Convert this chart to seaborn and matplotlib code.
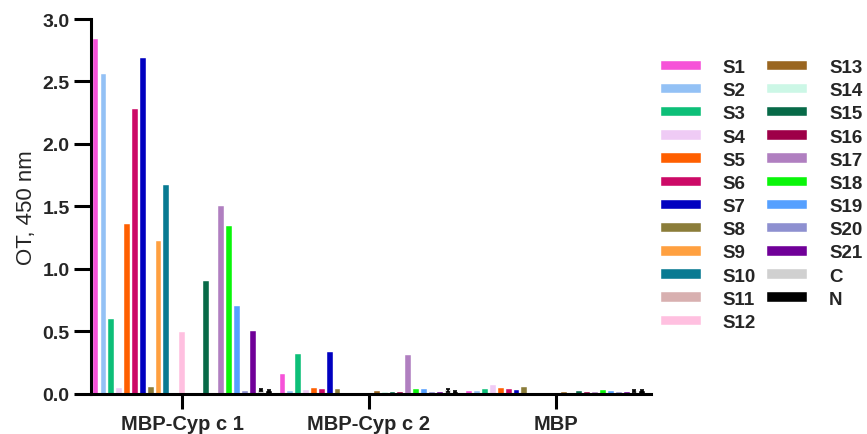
import matplotlib
matplotlib.use("Agg")
import matplotlib.pyplot as plt
from matplotlib.patches import Patch
import pandas as pd
import seaborn as sns

############################## data ##########################################
groups = ["MBP-Cyp c 1", "MBP-Cyp c 2", "MBP"]
samples = ["S1", "S2", "S3", "S4", "S5", "S6", "S7", "S8", "S9", "S10", "S11",
           "S12", "S13", "S14", "S15", "S16", "S17", "S18", "S19", "S20", "S21",
           "C", "N"]
colors = ["#f652d8", "#93c1f5", "#0dbf78", "#efcbf5", "#ff5f00", "#cc0a66",
          "#0000c0", "#8b7d3a", "#ffa040", "#087a92", "#d8b0b0", "#ffc0e0",
          "#9a6620", "#ccf7e6", "#076a48", "#9e0048", "#b07fc0", "#0af50a",
          "#55a0ff", "#8e90d0", "#700098", "#d0d0d0", "#000000"]

vals_cyp1 = [2.84, 2.56, 0.60, 0.045, 1.36, 2.28, 2.69, 0.05, 1.22, 1.67, 0.0,
             0.49, 0.0, 0.0, 0.90, 0.0, 1.50, 1.34, 0.70, 0.02, 0.50, 0.03, 0.02]
vals_cyp2 = [0.16, 0.02, 0.32, 0.03, 0.045, 0.035, 0.335, 0.04, 0.0, 0.0, 0.0,
             0.0, 0.02, 0.015, 0.015, 0.012, 0.31, 0.035, 0.035, 0.01, 0.015,
             0.025, 0.015]
vals_mbp = [0.02, 0.02, 0.04, 0.07, 0.045, 0.04, 0.03, 0.05, 0.0, 0.0, 0.0,
            0.0, 0.016, 0.008, 0.02, 0.016, 0.01, 0.03, 0.02, 0.01, 0.016,
            0.02, 0.02]
# small error on the controls
err_c = [0.01, 0.01, 0.008]
err_n = [0.008, 0.008, 0.006]

rows = []
for g, vals in zip(groups, [vals_cyp1, vals_cyp2, vals_mbp]):
    for s, v in zip(samples, vals):
        rows.append({"group": g, "sample": s, "value": v})
df = pd.DataFrame(rows)

############################## plot ##########################################
sns.set_style("ticks")
plt.rcParams['font.family'] = ['Liberation Sans', 'DejaVu Sans']

fig = plt.figure(figsize=(8.67, 4.35), dpi=100)
ax = fig.add_axes([0.1044, 0.0931, 0.6466, 0.8609])

palette = dict(zip(samples, colors))
sns.barplot(data=df, x="group", y="value", hue="sample", palette=palette,
            hue_order=samples, order=groups, width=0.968, gap=0.26,
            errorbar=None, legend=False, ax=ax, saturation=1,
            edgecolor="white", linewidth=0.3)

# error bars for C and N
for name, errs in [("C", err_c), ("N", err_n)]:
    cont = ax.containers[samples.index(name)]
    for p, e in zip(cont.patches, errs):
        ax.errorbar(p.get_x() + p.get_width() / 2, p.get_height(), yerr=e,
                    color="black", lw=1.2, capsize=1.5, capthick=1.2, zorder=5)

ax.set_xlim(-0.49, 2.51)
ax.set_ylim(0, 3.0)
ax.set_yticks([0, 0.5, 1.0, 1.5, 2.0, 2.5, 3.0])
ax.set_yticklabels(["0.0", "0.5", "1.0", "1.5", "2.0", "2.5", "3.0"])
ax.set_xlabel("")
ax.set_ylabel("OT, 450 nm", fontsize=16, labelpad=4)

for lab in ax.get_yticklabels():
    lab.set_fontweight("bold")
    lab.set_fontsize(14)
for lab in ax.get_xticklabels():
    lab.set_fontweight("bold")
    lab.set_fontsize(14.5)
ax.tick_params(axis="y", length=12, width=2.2, pad=3, color="black")
ax.tick_params(axis="x", length=11, width=2.2, pad=4, color="black")

sns.despine(ax=ax)
for sp in ["left", "bottom"]:
    ax.spines[sp].set_linewidth(2.2)
    ax.spines[sp].set_color("black")

handles = [Patch(facecolor=c, edgecolor="white", linewidth=0.3, label=s)
           for s, c in zip(samples, colors)]
leg = fig.legend(handles=handles, loc="upper left",
                 bbox_to_anchor=(661 / 867, (435 - 60) / 435), ncol=2,
                 frameon=False, borderpad=0, borderaxespad=0,
                 handlelength=2.13, handleheight=0.4, handletextpad=1.17,
                 columnspacing=0.6, labelspacing=0.33,
                 prop={"weight": "bold", "size": 13.5})

plt.savefig("out.png", dpi=100)
